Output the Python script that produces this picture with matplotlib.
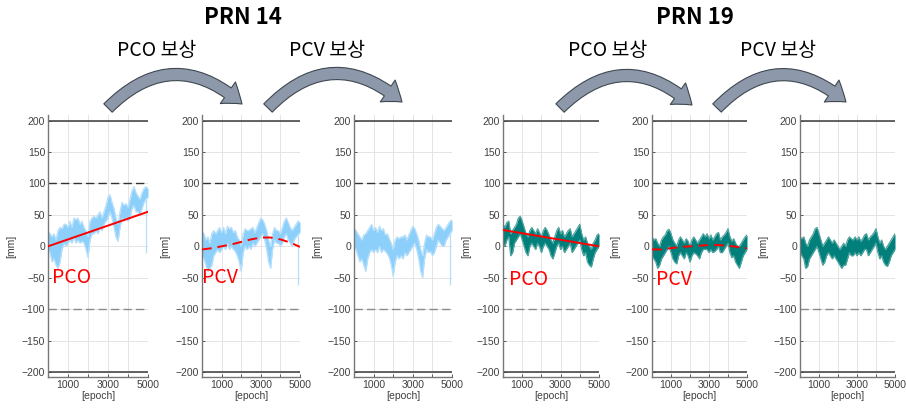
import numpy as np
import matplotlib.pyplot as plt
from matplotlib.patches import FancyArrowPatch

plt.rcParams["font.family"] = ["Liberation Sans", "DejaVu Sans"]

W, H = 906, 408

epoch = np.arange(0, 5001, 100)

# band envelopes (upper / lower), mm, one value per 100 epochs
prn14_raw_hi = [25, 20, 15, 20, 10, 25, 30, 28, 35, 35, 30, 40, 30, 45, 42, 45, 35, 40, 30, 25,
                15, 40, 45, 48, 45, 50, 55, 45, 55, 65, 78, 82, 70, 60, 45, 35, 55, 70, 65, 68,
                62, 75, 88, 95, 85, 80, 75, 85, 92, 95, 92]
prn14_raw_lo = [-5, -10, -25, -20, -30, -35, -25, -5, 5, 0, 5, 10, 5, 15, 5, 10, 5, 8, 5, -5,
                -18, 10, 20, 20, 25, 20, 30, 25, 35, 40, 45, 55, 45, 30, 15, 8, 30, 45, 40, 45,
                40, 45, 60, 65, 55, 55, 50, 60, 70, 75, 78]
prn14_pco_hi = [25, 20, 10, 15, 5, 20, 25, 20, 25, 30, 22, 30, 20, 32, 28, 30, 22, 25, 15, 10,
                0, 20, 28, 25, 25, 28, 30, 22, 30, 38, 45, 42, 35, 25, 10, 0, 20, 30, 25, 25,
                20, 30, 40, 45, 38, 30, 25, 30, 35, 40, 38]
prn14_pco_lo = [-15, -20, -30, -40, -35, -30, -15, -10, -5, -10, -5, 0, -5, 5, -5, 0, -5, -8, -15, -25,
                -40, -10, 0, -5, 0, -5, 5, 0, 5, 10, 15, 20, 10, -5, -25, -35, -5, 10, 5, 5,
                0, 5, 15, 20, 10, 5, 0, 10, 15, 18, 22]
prn14_pcv_hi = [30, 25, 20, 15, 10, 18, 20, 25, 30, 35, 25, 30, 22, 32, 25, 28, 18, 20, 12, 5,
                -5, 10, 15, 12, 15, 15, 18, 10, 18, 25, 32, 28, 20, 10, -5, -15, 5, 18, 15, 15,
                10, 20, 30, 35, 32, 28, 25, 30, 35, 40, 42]
prn14_pcv_lo = [0, -5, -15, -25, -20, -30, -40, -20, -10, -5, -10, -5, -10, 0, -10, -5, -8, -12, -18, -30,
                -48, -25, -15, -20, -15, -20, -10, -15, -10, -5, 0, 5, -5, -20, -40, -50, -20, -5, -10, -8,
                -15, -10, 0, 10, 5, 0, 0, 10, 15, 20, 25]

prn19_raw_hi = [35, 30, 38, 40, 20, 25, 30, 35, 45, 48, 40, 30, 20, 15, 25, 30, 25, 20, 28, 22,
                15, 25, 30, 25, 18, 10, 5, 15, 25, 30, 20, 25, 15, 20, 25, 28, 15, 20, 25, 30,
                35, 20, 10, 15, 5, 0, -5, 5, 10, 18, 20]
prn19_raw_lo = [5, 0, 10, 15, -15, -10, 5, 10, 15, 20, 10, 0, -10, -15, 0, 5, 0, -5, 5, 0,
                -10, 0, 5, 0, -5, -15, -20, -10, 0, 5, -5, 0, -10, -5, 0, 5, -10, -5, 0, 5,
                10, -5, -15, -10, -25, -30, -33, -20, -10, -5, 0]
prn19_pco_hi = [15, 10, 12, 5, 0, 10, 15, 18, 25, 27, 20, 10, 5, 0, 10, 15, 10, 5, 12, 8,
                0, 10, 15, 10, 5, 10, 15, 20, 15, 20, 12, 18, 10, 15, 20, 22, 10, 15, 18, 22,
                28, 15, 8, 12, 5, 0, 0, 5, 10, 15, 18]
prn19_pco_lo = [-15, -20, -25, -35, -30, -20, -15, -10, -5, 0, -10, -20, -25, -28, -15, -10, -15, -20, -10, -15,
                -25, -15, -10, -12, -15, -20, -10, -5, -5, -5, -10, -5, -10, -8, -5, 0, -10, -10, -5, 0,
                5, -10, -18, -15, -25, -30, -35, -25, -15, -10, -5]
prn19_pcv_hi = [15, 12, 15, 5, 0, 10, 15, 20, 28, 30, 20, 10, 0, 5, 10, 15, 10, 5, 10, 5,
                0, -5, 0, 5, 0, 10, 15, 12, 10, 15, 10, 15, 8, 12, 18, 20, 10, 15, 18, 22,
                28, 15, 5, 10, 0, -5, 0, 5, 10, 15, 20]
prn19_pcv_lo = [-10, -15, -20, -35, -32, -20, -15, -10, -5, 0, -10, -20, -30, -25, -15, -10, -15, -20, -15, -20,
                -25, -30, -35, -30, -30, -20, -10, -15, -15, -10, -15, -10, -15, -10, -5, -5, -15, -10, -5, 0,
                5, -10, -20, -15, -25, -30, -32, -25, -15, -10, -5]

# outlier epoch in PRN 14
prn14_outlier_epoch = 4880
prn14_outlier_mm = [-10, -62, -62]

# fitted PCO lines and PCV curves
pco_epoch = [0, 5000]
pco14_mm = [0, 55]
pco19_mm = [26, 0]
pcv_epoch = [0, 500, 1000, 1500, 2000, 2500, 3000, 3500, 4000, 4500, 5000]
pcv14_mm = [-5, -3, 0, 3, 7, 11, 14, 14, 11, 6, -1]
pcv19_mm = [-5, -5, -3, -1, 0, 1, 2, 2, 1, -1, -3]

light_blue = ("#8ccffa", "#b5dffb")
teal = ("#007f7b", "#4ea39f")

# axes placement in pixels: left, right
ax_px = [(48, 148), (202, 300), (354, 452), (503, 599), (652, 747), (800, 895)]
ax_top, ax_bot = 115, 377

panels = [
    (prn14_raw_hi, prn14_raw_lo, light_blue, "pco", pco14_mm, prn14_outlier_mm[0], (200, -59)),
    (prn14_pco_hi, prn14_pco_lo, light_blue, "pcv", pcv14_mm, prn14_outlier_mm[1], (20, -58)),
    (prn14_pcv_hi, prn14_pcv_lo, light_blue, None, None, prn14_outlier_mm[2], None),
    (prn19_raw_hi, prn19_raw_lo, teal, "pco", pco19_mm, None, (330, -61)),
    (prn19_pco_hi, prn19_pco_lo, teal, "pcv", pcv19_mm, None, (230, -62)),
    (prn19_pcv_hi, prn19_pcv_lo, teal, None, None, None, None),
]

fig = plt.figure(figsize=(W / 100, H / 100), dpi=100)

for (l, r), (hi, lo, col, fit, fit_mm, outl, lab) in zip(ax_px, panels):
    ax = fig.add_axes([l / W, 1 - ax_bot / H, (r - l) / W, (ax_bot - ax_top) / H])
    ax.set_xlim(0, 5000)
    ax.set_ylim(-208, 209)
    ax.grid(True, color="#e4e4e4", lw=0.7)
    ax.set_axisbelow(True)
    ax.axhline(200, color="#3a3a3a", lw=1.1, zorder=1)
    ax.axhline(-200, color="#3a3a3a", lw=1.1, zorder=1)
    ax.axhline(100, color="#333333", lw=1.0, dashes=(6, 3), zorder=1)
    ax.axhline(-100, color="#8a8a8a", lw=1.0, dashes=(6, 3), zorder=1)

    ax.fill_between(epoch, lo, hi, color=col[0], lw=0, zorder=2)
    ax.plot(epoch, hi, color=col[1], lw=0.9, zorder=2)
    ax.plot(epoch, lo, color=col[1], lw=0.9, zorder=2)
    if outl is not None:
        ax.vlines(prn14_outlier_epoch, outl, lo[-2], color=col[1], lw=0.9, zorder=2)

    if fit == "pco":
        ax.plot(pco_epoch, fit_mm, color="#ff0000", lw=1.4, zorder=3)
        ax.text(lab[0], lab[1], "PCO", color="#ff0000", fontsize=14,
                family=["Noto Sans CJK KR", "DejaVu Sans"], zorder=4)
    elif fit == "pcv":
        ax.plot(pcv_epoch, fit_mm, color="#ff0000", lw=1.4, dashes=(5, 3), zorder=3)
        ax.text(lab[0], lab[1], "PCV", color="#ff0000", fontsize=14,
                family=["Noto Sans CJK KR", "DejaVu Sans"], zorder=4)

    ax.set_yticks(range(-200, 201, 50))
    ax.set_xticks([1000, 2000, 3000, 4000, 5000])
    ax.set_xticklabels(["1000", "", "3000", "", "5000"])
    ax.tick_params(direction="in", length=2.5, width=0.6, labelsize=7.5,
                   colors="#404040", pad=2)
    for s in ["top", "right"]:
        ax.spines[s].set_visible(False)
    for s in ["left", "bottom"]:
        ax.spines[s].set_color("#777777")
        ax.spines[s].set_linewidth(1.0)
    ax.set_ylabel("[mm]", fontsize=7.5, color="#404040", labelpad=4)
    ax.set_xlabel("[epoch]", fontsize=7.5, color="#404040", labelpad=1)


def px(x, y):
    return (x / W, 1 - y / H)


kr = ["Noto Sans CJK KR", "DejaVu Sans"]
titles = [("PRN 14", 243), ("PRN 19", 695)]
for t, x in titles:
    fig.text(*px(x, 18), t, ha="center", va="center", fontsize=16,
             fontweight="bold", family=kr)

steps = [("PCO 보상", 157), ("PCV 보상", 327), ("PCO 보상", 608), ("PCV 보상", 778)]
for t, x in steps:
    fig.text(*px(x, 50), t, ha="center", va="center", fontsize=14, family=kr)

arrows = [((108, 108), (242, 104)), ((268, 108), (402, 102)),
          ((560, 108), (692, 105)), ((717, 108), (846, 102))]
for a, b in arrows:
    arr = FancyArrowPatch(px(*a), px(*b), transform=fig.transFigure,
                          connectionstyle="arc3,rad=-0.47",
                          arrowstyle="simple,head_width=1.9,head_length=1.3,tail_width=0.85",
                          mutation_scale=10, fc="#8d99aa", ec="#3f4750", lw=0.8,
                          shrinkA=0, shrinkB=0)
    fig.add_artist(arr)

fig.savefig("out.png", dpi=100)
